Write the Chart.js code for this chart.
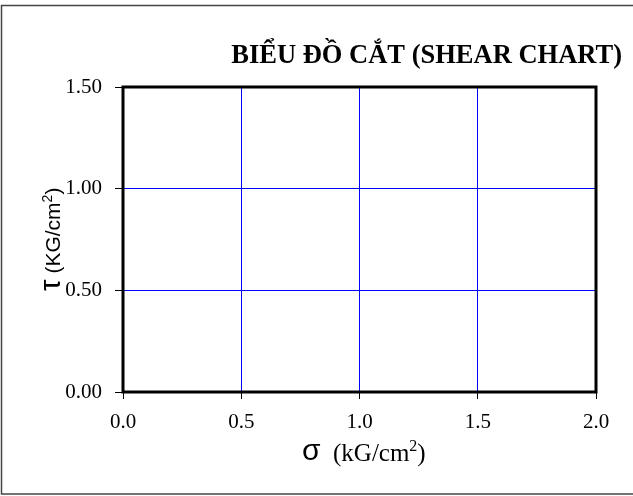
<!DOCTYPE html>
<html>
<head>
<meta charset="utf-8">
<script src="https://cdn.jsdelivr.net/npm/chart.js@4.4.1/dist/chart.umd.min.js"></script>
<style>
  body { margin: 0; background: #fff; }
  #wrap { width: 633px; height: 496px; position: relative; }
</style>
</head>
<body>
<div id="wrap"><canvas id="shearChart"></canvas></div>
<script>
// chart data (the sheet has no test points yet, only the empty grid)
const chartTitle = 'BIỂU ĐỒ CẮT (SHEAR CHART)'
const xTicks = [0, 0.5, 1.0, 1.5, 2.0]
const yTicks = [0, 0.5, 1.0, 1.5]
const sigmaValues = []
const tauValues = []

const SERIF = '"Liberation Serif", "Times New Roman", serif'
const SANS = '"Liberation Sans", Arial, sans-serif'

let points = sigmaValues.map((s, i) => ({ x: s, y: tauValues[i] }))

// draws frame, plot border, title and the two axis titles
const decor = {
  id: 'decor',
  beforeDraw(chart) {
    const ctx = chart.ctx
    ctx.save()
    ctx.fillStyle = '#fff'
    ctx.fillRect(0, 0, chart.width, chart.height)
    ctx.strokeStyle = '#444'
    ctx.lineWidth = 1.5
    ctx.strokeRect(1.5, 5.5, 700, 488.5)
    ctx.restore()
  },
  afterDraw(chart) {
    const ctx = chart.ctx
    const a = chart.chartArea
    ctx.save()
    ctx.strokeStyle = '#000'
    ctx.lineWidth = 3
    ctx.strokeRect(a.left, a.top, a.right - a.left, a.bottom - a.top)

    ctx.fillStyle = '#000'
    ctx.textBaseline = 'alphabetic'
    ctx.font = 'bold 26.5px ' + SERIF
    ctx.textAlign = 'right'
    ctx.fillText(chartTitle, 622, 63)

    // x title: sigma (kG/cm2)
    ctx.textAlign = 'left'
    let x = 302
    ctx.font = '30px ' + SANS
    ctx.fillText('σ', x, 460)
    x = 333
    ctx.font = '25px ' + SERIF
    ctx.fillText('(kG/cm', x, 461)
    x += ctx.measureText('(kG/cm').width
    ctx.font = '16px ' + SERIF
    ctx.fillText('2', x, 451)
    x += ctx.measureText('2').width
    ctx.font = '25px ' + SERIF
    ctx.fillText(')', x, 461)

    // y title: tau (KG/cm2), rotated
    ctx.translate(60, 291)
    ctx.rotate(-Math.PI / 2)
    let t = 0
    ctx.font = '29px ' + SANS
    ctx.fillText('τ', t, 0)
    t += ctx.measureText('τ').width + 6
    ctx.font = '21px ' + SANS
    ctx.fillText('(KG/cm', t, 0)
    t += ctx.measureText('(KG/cm').width
    ctx.font = '14px ' + SANS
    ctx.fillText('2', t, -8)
    t += ctx.measureText('2').width
    ctx.font = '21px ' + SANS
    ctx.fillText(')', t, 0)
    ctx.restore()
  }
}

const config = {
  type: 'scatter',
  data: {
    datasets: [{
      data: points,
      borderColor: '#000',
      backgroundColor: '#000',
      pointRadius: 3
    }]
  },
  options: {
    responsive: true,
    maintainAspectRatio: false,
    animation: false,
    layout: {
      padding: { left: 0, right: 37, top: 87, bottom: 0 }
    },
    plugins: {
      legend: { display: false },
      title: { display: false },
      tooltip: { enabled: false }
    },
    scales: {
      x: {
        type: 'linear',
        min: 0,
        max: 2,
        afterBuildTicks: s => { s.ticks = xTicks.map(v => ({ value: v })) },
        afterFit: s => { s.height = 104 },
        border: { display: false },
        grid: {
          color: '#0000ff',
          lineWidth: 1,
          tickColor: '#000',
          tickLength: 7
        },
        ticks: {
          color: '#000',
          padding: 11,
          font: { family: SERIF, size: 21 },
          callback: v => Number(v).toFixed(1)
        }
      },
      y: {
        type: 'linear',
        min: 0,
        max: 1.5,
        afterBuildTicks: s => { s.ticks = yTicks.map(v => ({ value: v })) },
        afterFit: s => { s.width = 123 },
        border: { display: false },
        grid: {
          color: '#0000ff',
          lineWidth: 1,
          tickColor: '#000',
          tickLength: 8
        },
        ticks: {
          color: '#000',
          padding: 13,
          font: { family: SERIF, size: 21 },
          callback: v => Number(v).toFixed(2)
        }
      }
    }
  },
  plugins: [decor]
}

new Chart(document.getElementById('shearChart'), config)
</script>
</body>
</html>
